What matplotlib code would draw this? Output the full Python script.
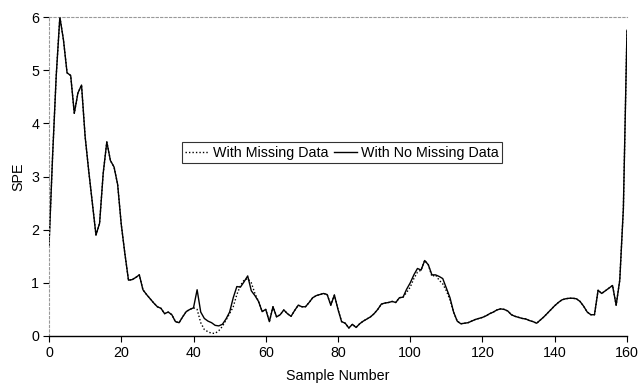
import matplotlib
matplotlib.use("Agg")
import matplotlib.pyplot as plt
import numpy as np

plt.rcParams['font.family'] = ['Liberation Sans', 'DejaVu Sans']

# SPE per sample, full data set
spe_full = [
    1.70, 3.40, 4.90, 6.00, 5.57, 4.95, 4.90, 4.19, 4.57, 4.72,
    3.75, 3.10, 2.50, 1.90, 2.12, 3.06, 3.65, 3.30, 3.18, 2.85,
    2.10, 1.55, 1.05, 1.06, 1.10, 1.15, 0.87, 0.78, 0.70, 0.62,
    0.55, 0.52, 0.42, 0.45, 0.40, 0.27, 0.25, 0.36, 0.46, 0.50,
    0.53, 0.87, 0.45, 0.33, 0.28, 0.25, 0.20, 0.19, 0.22, 0.32,
    0.45, 0.72, 0.93, 0.92, 1.02, 1.13, 0.85, 0.76, 0.65, 0.46,
    0.50, 0.27, 0.55, 0.36, 0.40, 0.49, 0.42, 0.37, 0.48, 0.58,
    0.55, 0.55, 0.63, 0.72, 0.76, 0.78, 0.80, 0.78, 0.58, 0.77,
    0.50, 0.27, 0.24, 0.15, 0.22, 0.16, 0.23, 0.28, 0.32, 0.36,
    0.42, 0.50, 0.60, 0.62, 0.63, 0.65, 0.63, 0.72, 0.73, 0.88,
    1.00, 1.15, 1.27, 1.24, 1.42, 1.34, 1.15, 1.15, 1.12, 1.08,
    0.90, 0.72, 0.45, 0.28, 0.23, 0.24, 0.25, 0.28, 0.31, 0.33,
    0.35, 0.38, 0.42, 0.45, 0.49, 0.51, 0.50, 0.47, 0.40, 0.37,
    0.35, 0.33, 0.32, 0.29, 0.27, 0.24, 0.30, 0.36, 0.43, 0.50,
    0.57, 0.63, 0.68, 0.70, 0.71, 0.71, 0.70, 0.65, 0.56, 0.45,
    0.40, 0.40, 0.86, 0.80, 0.85, 0.90, 0.95, 0.58, 1.05, 2.40,
    5.75,
]

# samples where the reconstructed (missing data) SPE differs
diff_idx = [41, 42, 43, 44, 45, 46, 47, 48, 49, 50, 51, 52, 53, 54, 55, 56, 57,
            99, 100, 101, 102, 106, 108, 109, 110, 111]
diff_val = [0.50, 0.25, 0.12, 0.08, 0.05, 0.05, 0.10, 0.18, 0.30, 0.42, 0.55,
            0.78, 0.95, 1.05, 1.08, 1.00, 0.80,
            0.82, 0.92, 1.08, 1.20, 1.12, 1.05, 0.98, 0.85, 0.68]

samples = np.arange(len(spe_full))
spe_missing = np.array(spe_full)
spe_missing[diff_idx] = diff_val

fs = 10.3

fig = plt.figure(figsize=(6.39, 3.85), dpi=100)
ax = fig.add_axes([0.0767, 0.1273, 0.9045, 0.8285])

ax.plot(samples, spe_missing, color='black', linestyle=(0, (1, 1.5)), lw=1.0,
        label='With Missing Data', zorder=3)
ax.plot(samples, spe_full, color='black', linestyle='-', lw=1.0,
        label='With No Missing Data', zorder=2)

ax.set_xlim(0, 160)
ax.set_ylim(0, 6)
ax.set_xticks(range(0, 161, 20))
ax.set_yticks(range(0, 7))
ax.tick_params(direction='out', length=4, width=0.8, labelsize=fs, pad=3)

for side in ['top', 'left']:
    ax.spines[side].set_color('#999999')
    ax.spines[side].set_linestyle((0, (2, 2)))
    ax.spines[side].set_linewidth(0.8)
ax.spines['right'].set_visible(False)
ax.spines['bottom'].set_linewidth(1.0)

ax.set_xlabel('Sample Number', fontsize=fs, labelpad=6.5)
ax.set_ylabel('SPE', fontsize=fs, labelpad=4)

leg = ax.legend(loc='center', bbox_to_anchor=(0.507, 0.574), ncol=2,
                fontsize=fs, frameon=True, fancybox=False, handlelength=1.6,
                handletextpad=0.3, columnspacing=0.4, borderpad=0.25,
                borderaxespad=0)
leg.get_frame().set_edgecolor('black')
leg.get_frame().set_linewidth(0.8)

fig.savefig('out.png', dpi=100)
